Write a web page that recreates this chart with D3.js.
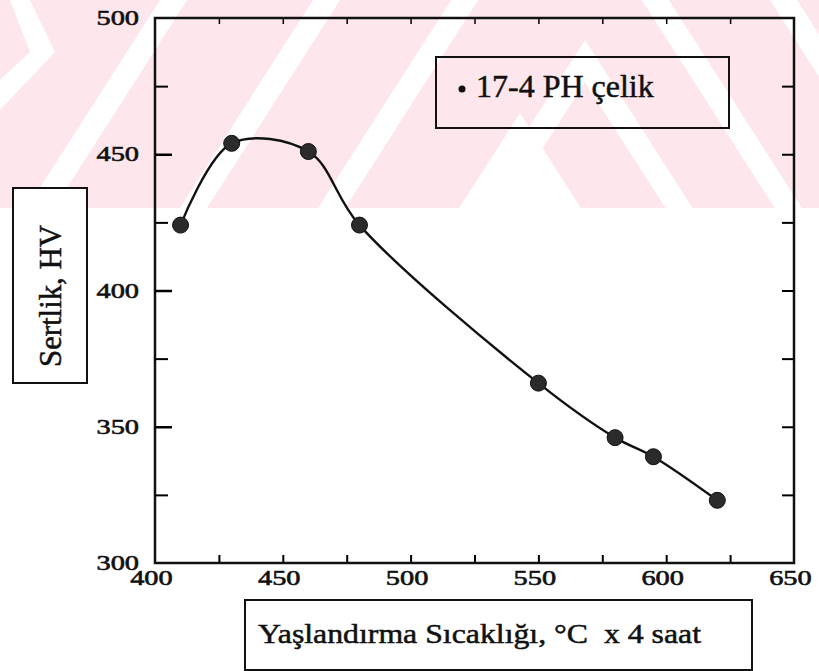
<!DOCTYPE html>
<html>
<head>
<meta charset="utf-8">
<script src="https://cdn.jsdelivr.net/npm/d3@7"></script>
<style>
  body { margin: 0; background: #fff; }
  svg { display: block; }
  text { font-family: "Liberation Serif", "DejaVu Serif", serif; fill: #111; }
</style>
</head>
<body>
<svg width="819" height="671"></svg>
<script>
// data
const temps = [410, 430, 460, 480, 550, 580, 595, 620]
const hardness = [424, 454, 451, 424, 366, 346, 339, 323]
const xTicks = [400, 450, 500, 550, 600, 650]
const xMinor = [425, 450, 475, 500, 525, 550, 575, 600, 625]
const yTicks = [300, 350, 400, 450, 500]
const yMajor = [350, 400, 450]
const yMinor = [325, 375, 425, 475]
const seriesName = "17-4 PH çelik"
const xTitle = "Yaşlandırma Sıcaklığı, °C  x 4 saat"
const yTitle = "Sertlik, HV"

const svg = d3.select("svg")
const width = +svg.attr("width")

// watermark band (pink chevrons in the scan)
const bandH = 208
svg.append("clipPath").attr("id", "band")
    .append("rect").attr("width", width).attr("height", bandH)
const wm = svg.append("g").attr("clip-path", "url(#band)")
wm.append("rect").attr("width", width).attr("height", bandH).attr("fill", "#fde7ec")

const k = 0.64, w = 27, H = 500
function chevron(c) {
    const d = k * (H - c.a)
    return [[c.cx - d, H], [c.cx, c.a], [c.cx + d, H], [c.cx + d - w, H], [c.cx, c.a + w / k], [c.cx - d + w, H]]
}
const chevs = [{cx: 555, a: -617}, {cx: 555, a: -378}, {cx: 560, a: -170}, {cx: 585, a: 40}]
wm.selectAll(".chev")
    .data(chevs)
    .enter().append("polygon")
    .attr("class", "chev")
    .attr("points", c => chevron(c).join(" "))
    .attr("fill", "#fff")
// inner white triangle
wm.append("polygon")
    .attr("points", [[520, 113], [520 + k * (H - 113), H], [520 - k * (H - 113), H]].join(" "))
    .attr("fill", "#fff")
// left ">" band
wm.append("polygon")
    .attr("points", [[10, 0], [30, 0], [55, 52], [0, 110], [0, 80], [30, 52]].join(" "))
    .attr("fill", "#fff")

// scales
const x = d3.scaleLinear().domain([400, 650]).range([155, 794])
const y = d3.scaleLinear().domain([300, 500]).range([563, 18])
const sx = 1.35 // scan is stretched sideways, widen the digits

// frame
svg.append("rect")
    .attr("x", x(400)).attr("y", y(500))
    .attr("width", x(650) - x(400)).attr("height", y(300) - y(500))
    .attr("fill", "none").attr("stroke", "#111").attr("stroke-width", 2.5)

// bottom axis: labels
const gx = svg.append("g")
    .attr("transform", `translate(0,${y(300)})`)
    .call(d3.axisBottom(x).tickValues(xTicks).tickSize(0).tickPadding(7))
gx.select(".domain").remove()
gx.selectAll("text")
    .attr("font-size", 21)
    .attr("stroke", "#111").attr("stroke-width", 0.6)
    .attr("transform", `scale(${sx},1)`)
    .attr("x", -3)

// bottom minor ticks (inward)
const gxm = svg.append("g")
    .attr("transform", `translate(0,${y(300)})`)
    .call(d3.axisBottom(x).tickValues(xMinor).tickSize(-8).tickFormat(""))
gxm.select(".domain").remove()
gxm.selectAll("line").attr("stroke-width", 2)

// top ticks
const gt = svg.append("g")
    .attr("transform", `translate(0,${y(500)})`)
    .call(d3.axisTop(x).tickValues(xMinor).tickSize(-6).tickFormat(""))
gt.select(".domain").remove()
gt.selectAll("line").attr("stroke-width", 1.5)

// left axis: labels
const gy = svg.append("g")
    .attr("transform", `translate(${x(400)},0)`)
    .call(d3.axisLeft(y).tickValues(yTicks).tickSize(0).tickPadding(0))
gy.select(".domain").remove()
gy.selectAll("text")
    .attr("font-size", 21)
    .attr("stroke", "#111").attr("stroke-width", 0.6)
    .attr("transform", `scale(${sx},1)`)
    .attr("x", -16 / sx)

const gyM = svg.append("g")
    .attr("transform", `translate(${x(400)},0)`)
    .call(d3.axisLeft(y).tickValues(yMajor).tickSize(-17).tickFormat(""))
gyM.select(".domain").remove()
gyM.selectAll("line").attr("stroke-width", 2.5)

const gym = svg.append("g")
    .attr("transform", `translate(${x(400)},0)`)
    .call(d3.axisLeft(y).tickValues(yMinor).tickSize(-13).tickFormat(""))
gym.select(".domain").remove()
gym.selectAll("line").attr("stroke-width", 2)

// right axis ticks (inward)
const gr = svg.append("g")
    .attr("transform", `translate(${x(650)},0)`)
    .call(d3.axisRight(y).tickValues(yMajor.concat(yMinor)).tickSize(-12).tickFormat(""))
gr.select(".domain").remove()
gr.selectAll("line").attr("stroke-width", 2)

// curve
const pts = temps.map((t, i) => [t, hardness[i]])
const line = d3.line()
    .x(d => x(d[0]))
    .y(d => y(d[1]))
    .curve(d3.curveCatmullRom.alpha(0.5))
svg.append("path")
    .datum(pts)
    .attr("d", line)
    .attr("fill", "none")
    .attr("stroke", "#111")
    .attr("stroke-width", 2.4)

svg.selectAll(".pt")
    .data(pts)
    .enter().append("circle")
    .attr("class", "pt")
    .attr("cx", d => x(d[0]))
    .attr("cy", d => y(d[1]))
    .attr("r", 8)
    .attr("fill", "#2b2b2b")
    .attr("stroke", "#111")
    .attr("stroke-width", 1)

// legend
const lg = svg.append("g")
lg.append("rect")
    .attr("x", 436).attr("y", 57).attr("width", 293).attr("height", 71)
    .attr("fill", "none").attr("stroke", "#111").attr("stroke-width", 2)
lg.append("circle").attr("cx", 462).attr("cy", 89).attr("r", 3.5).attr("fill", "#111")
lg.append("text")
    .attr("x", 476).attr("y", 97)
    .attr("font-size", 32)
    .attr("stroke", "#111").attr("stroke-width", 0.5)
    .text(seriesName)

// x title box
svg.append("rect")
    .attr("x", 245).attr("y", 600).attr("width", 507).attr("height", 70)
    .attr("fill", "none").attr("stroke", "#111").attr("stroke-width", 2)
svg.append("text")
    .attr("x", 258).attr("y", 643)
    .attr("font-size", 27)
    .attr("stroke", "#111").attr("stroke-width", 0.5)
    .attr("textLength", 443)
    .attr("lengthAdjust", "spacingAndGlyphs")
    .style("white-space", "pre")
    .text(xTitle)

// y title box
svg.append("rect")
    .attr("x", 13).attr("y", 188).attr("width", 74).attr("height", 195)
    .attr("fill", "#fff").attr("stroke", "#111").attr("stroke-width", 2)
svg.append("text")
    .attr("transform", "translate(61,296) rotate(-90)")
    .attr("text-anchor", "middle")
    .attr("font-size", 31)
    .attr("stroke", "#111").attr("stroke-width", 0.5)
    .attr("textLength", 142)
    .attr("lengthAdjust", "spacingAndGlyphs")
    .text(yTitle)
</script>
</body>
</html>
